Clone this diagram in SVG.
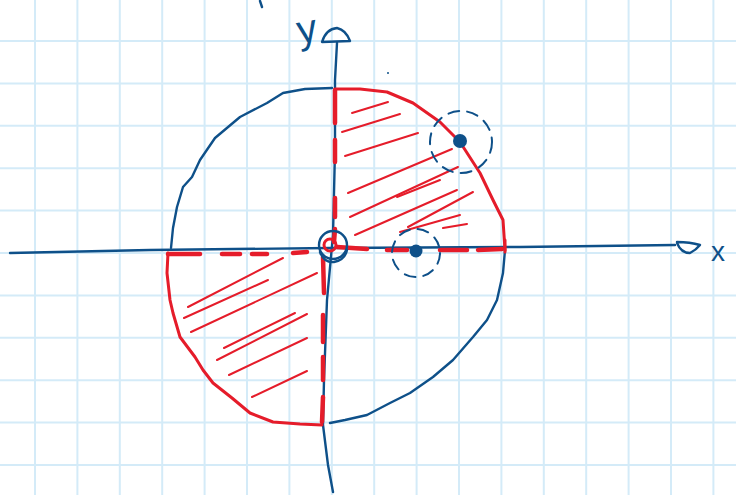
<svg xmlns="http://www.w3.org/2000/svg" width="736" height="495" viewBox="0 0 736 495">
<style>
.grid line{stroke:#d4ebf8;stroke-width:2}
.blue{fill:none;stroke:#0e5089;stroke-width:2.4;stroke-linecap:round;stroke-linejoin:round}
.red{fill:none;stroke:#e51c2a;stroke-width:3;stroke-linecap:round;stroke-linejoin:round}
.redthick{fill:none;stroke:#e51c2a;stroke-width:4.5;stroke-linecap:round}
.hatch{fill:none;stroke:#e51c2a;stroke-width:2;stroke-linecap:round}
.dash{fill:none;stroke:#0e5089;stroke-width:2;stroke-dasharray:11 8;stroke-linecap:round}
.dot{fill:#0e5089}
.lbl{font-family:"Liberation Sans",Arial,sans-serif;fill:#0e5089}
</style>
<rect width="736" height="495" fill="#ffffff"/>
<g class="grid" id="grid">
<line x1="35" y1="0" x2="35" y2="495"/><line x1="77.4" y1="0" x2="77.4" y2="495"/><line x1="119.8" y1="0" x2="119.8" y2="495"/><line x1="162.2" y1="0" x2="162.2" y2="495"/><line x1="204.6" y1="0" x2="204.6" y2="495"/><line x1="247" y1="0" x2="247" y2="495"/><line x1="289.4" y1="0" x2="289.4" y2="495"/><line x1="331.8" y1="0" x2="331.8" y2="495"/><line x1="374.2" y1="0" x2="374.2" y2="495"/><line x1="416.6" y1="0" x2="416.6" y2="495"/><line x1="459" y1="0" x2="459" y2="495"/><line x1="501.4" y1="0" x2="501.4" y2="495"/><line x1="543.8" y1="0" x2="543.8" y2="495"/><line x1="586.2" y1="0" x2="586.2" y2="495"/><line x1="628.6" y1="0" x2="628.6" y2="495"/><line x1="671" y1="0" x2="671" y2="495"/><line x1="713.4" y1="0" x2="713.4" y2="495"/>
<line x1="0" y1="41" x2="736" y2="41"/><line x1="0" y1="83.4" x2="736" y2="83.4"/><line x1="0" y1="125.8" x2="736" y2="125.8"/><line x1="0" y1="168.2" x2="736" y2="168.2"/><line x1="0" y1="210.6" x2="736" y2="210.6"/><line x1="0" y1="253" x2="736" y2="253"/><line x1="0" y1="295.4" x2="736" y2="295.4"/><line x1="0" y1="337.8" x2="736" y2="337.8"/><line x1="0" y1="380.2" x2="736" y2="380.2"/><line x1="0" y1="422.6" x2="736" y2="422.6"/><line x1="0" y1="465" x2="736" y2="465"/>
</g>
<g id="circle-blue">
<polyline class="blue" points="332,88 305,89 283,93 267,103 240,117 215,138 200,160 192,177 183,187 177,207 173,228 171,248"/>
<polyline class="blue" points="505,250 503,273 497,300 487,320 473,337 453,360 433,377 410,393 390,403 367,415 345,420 330,423"/>
</g>
<g id="axes">
<polyline class="blue" points="10,253 150,250 330,248 520,247 675,245"/>
<path class="blue" d="M677,243 Q681,253 690,253 Q696,250 700,245 Q690,242 677,242"/>
<polyline class="blue" points="337,43 335,80 335,150 333,235 327,300 324,380 323,425 328,465 333,492"/>
<path class="blue" d="M322,42 Q326,29 337,28 Q346,30 350,41 Z"/>
<text class="lbl" x="297" y="42" font-size="40" transform="rotate(-10 310 30)">y</text>
<text class="lbl" x="711" y="261" font-size="28">x</text>
<line class="blue" x1="260" y1="1" x2="262" y2="7"/>
<circle class="dot" cx="388" cy="73" r="1"/>
</g>
<g id="region-q1">
<polyline class="red" points="335,89 360,89 387,92 413,103 440,122 460,142 480,173 493,200 503,220 505,250"/>
<line class="redthick" x1="335" y1="90" x2="335" y2="123"/>
<line class="redthick" x1="335" y1="140" x2="335" y2="162"/>
<line class="redthick" x1="335" y1="198" x2="335" y2="217"/>
<line class="redthick" x1="335" y1="229" x2="334" y2="242"/>
<line class="redthick" x1="337" y1="247" x2="367" y2="249"/>
<line class="redthick" x1="387" y1="250" x2="407" y2="250"/>
<line class="redthick" x1="440" y1="250" x2="467" y2="250"/>
<line class="redthick" x1="478" y1="250" x2="502" y2="249"/>
<line class="red" x1="505" y1="240" x2="505" y2="252"/>
<line class="hatch" x1="352" y1="113" x2="388" y2="102"/>
<line class="hatch" x1="342" y1="132" x2="400" y2="114"/>
<line class="hatch" x1="345" y1="156" x2="418" y2="133"/>
<line class="hatch" x1="348" y1="193" x2="452" y2="149"/>
<line class="hatch" x1="350" y1="217" x2="458" y2="167"/>
<line class="hatch" x1="397" y1="197" x2="440" y2="180"/>
<line class="hatch" x1="355" y1="235" x2="457" y2="190"/>
<line class="hatch" x1="408" y1="227" x2="473" y2="192"/>
<line class="hatch" x1="400" y1="232" x2="460" y2="215"/>
<line class="hatch" x1="443" y1="228" x2="467" y2="224"/>
</g>
<g id="region-q3">
<polyline class="red" points="168,253 167,273 170,300 173,313 180,337 195,357 203,370 213,383 232,398 250,413 273,422 300,424 322,425"/>
<line class="redthick" x1="168" y1="254" x2="200" y2="254"/>
<line class="redthick" x1="222" y1="254" x2="240" y2="254"/>
<line class="redthick" x1="252" y1="254" x2="267" y2="254"/>
<line class="redthick" x1="293" y1="253" x2="307" y2="252"/>
<line class="redthick" x1="323" y1="257" x2="324" y2="293"/>
<line class="redthick" x1="323" y1="315" x2="323" y2="342"/>
<line class="redthick" x1="323" y1="357" x2="323" y2="380"/>
<line class="redthick" x1="323" y1="397" x2="322" y2="422"/>
<line class="hatch" x1="188" y1="307" x2="283" y2="258"/>
<line class="hatch" x1="184" y1="318" x2="268" y2="280"/>
<line class="hatch" x1="191" y1="332" x2="317" y2="273"/>
<line class="hatch" x1="224" y1="348" x2="295" y2="313"/>
<line class="hatch" x1="217" y1="360" x2="307" y2="314"/>
<line class="hatch" x1="229" y1="375" x2="307" y2="338"/>
<line class="hatch" x1="252" y1="397" x2="307" y2="371"/>
</g>
<g id="origin">
<circle class="blue" cx="333" cy="245" r="14"/>
<path class="blue" d="M320,252 Q324,263 334,262 Q345,260 347,250"/>
<circle class="red" cx="330" cy="245" r="6"/>
</g>
<g id="point-a">
<circle class="dash" cx="461" cy="142" r="31"/>
<circle class="dot" cx="460" cy="141" r="7"/>
</g>
<g id="point-b">
<circle class="dash" cx="416" cy="253" r="24"/>
<circle class="dot" cx="416" cy="251" r="6.5"/>
</g>
</svg>
